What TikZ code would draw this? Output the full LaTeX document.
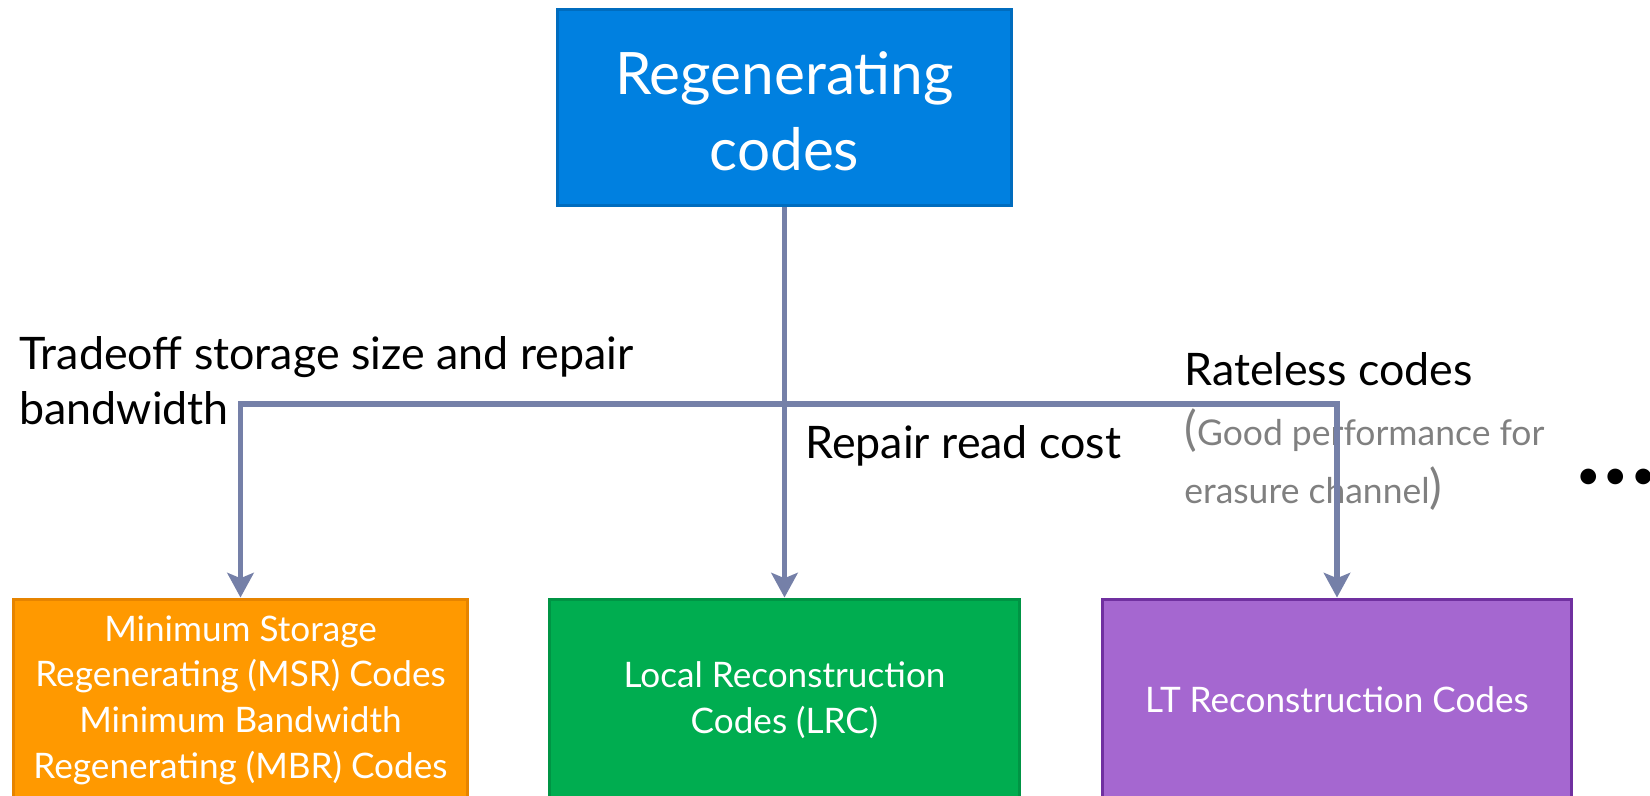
\documentclass[tikz,border=0pt]{standalone}
\usepackage{fontspec}
\setmainfont{Lato}
\usetikzlibrary{arrows.meta}

\definecolor{topblue}{RGB}{0,128,224}
\definecolor{topedge}{RGB}{0,108,190}
\definecolor{orangefill}{RGB}{255,153,0}
\definecolor{orangeedge}{RGB}{230,132,0}
\definecolor{greenfill}{RGB}{0,173,80}
\definecolor{greenedge}{RGB}{0,148,68}
\definecolor{purplefill}{RGB}{165,103,208}
\definecolor{purpleedge}{RGB}{112,48,160}
\definecolor{linkgray}{RGB}{117,128,168}
\definecolor{notegray}{RGB}{128,128,128}

\tikzset{
  codebox/.style={draw, line width=1.7pt, text=white, align=center,
    inner sep=0pt, minimum height=4.04cm},
  leafbox/.style={codebox, font=\fontsize{20}{26}\selectfont},
  link/.style={draw=linkgray, line width=2.9pt},
  linkarrow/.style={link, -{Stealth[length=14pt, width=15pt, inset=3pt]}},
  branchlabel/.style={anchor=base west, inner sep=0pt, align=left,
    font=\fontsize{25.5}{31}\selectfont},
  notelabel/.style={anchor=base west, inner sep=0pt, align=left,
    text=notegray, font=\fontsize{20.2}{33}\selectfont}
}
% larger parentheses around the grey note
\newcommand{\noteparen}[1]{{\fontsize{27}{33}\selectfont#1}}

\begin{document}
\begin{tikzpicture}[x=0.02cm, y=-0.02cm]
\useasboundingbox (0,0) rectangle (1650,795);
\clip (0,0) rectangle (1650,795);

% root of the family tree, its title set a little below centre
\node[codebox, fill=topblue, draw=topedge, minimum width=9.1cm,
      minimum height=3.94cm] (root) at (784.5,107.5) {};
\node[align=center, inner sep=0pt, text=white,
      font=\fontsize{33.3}{43}\selectfont]
  (roottitle) at ([yshift=-0.08cm]root.center) {Regenerating\\codes};

% the three families, running off the bottom edge
\node[leafbox, fill=orangefill, draw=orangeedge, minimum width=9.1cm]
  (msr) at (240.5,700) {Minimum Storage\\Regenerating (MSR) Codes\\Minimum Bandwidth\\Regenerating (MBR) Codes};
\node[leafbox, fill=greenfill, draw=greenedge, minimum width=9.42cm]
  (lrc) at (784.5,700) {Local Reconstruction\\Codes (LRC)};
\node[leafbox, fill=purplefill, draw=purpleedge, minimum width=9.4cm]
  (lt) at (1337,700) {LT Reconstruction Codes};

% branch labels (base anchor = baseline of the last line)
\node[branchlabel] (tradeoff) at (19,424) {Tradeoff storage size and repair\\bandwidth};
\node[branchlabel] (readcost) at (805,458) {Repair read cost};
\node[branchlabel] (rateless) at (1184,385) {Rateless codes};
\node[notelabel] (ratelessnote) at (1184,503)
  {\noteparen{(}Good performance for\\erasure channel\noteparen{)}};

\node[anchor=base west, inner sep=0pt, font=\fontsize{24}{30}\selectfont]
  (more) at (1576,489) {\textbullet\kern1.7pt\textbullet\kern1.7pt\textbullet};

% connectors, drawn over the labels
\coordinate (split) at (784.5,404);
\draw[linkarrow] (root.south) -- (lrc.north);
\draw[linkarrow] (split) -| (msr.north);
\draw[linkarrow] (split) -| (lt.north);
\end{tikzpicture}
\end{document}
